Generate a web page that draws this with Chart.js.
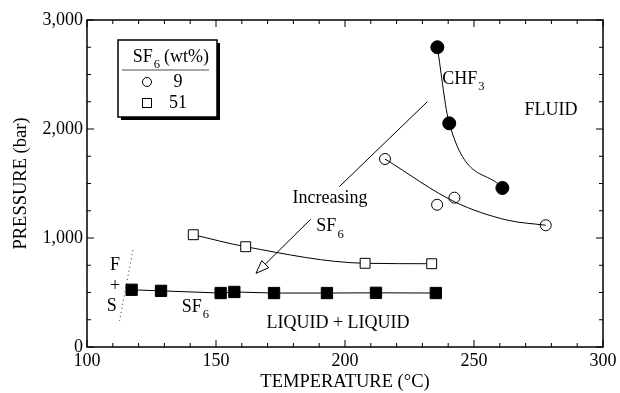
<!DOCTYPE html>
<html>
<head>
<meta charset="utf-8">
<script src="https://cdn.jsdelivr.net/npm/chart.js@4/dist/chart.umd.min.js"></script>
<style>
html,body{margin:0;padding:0;background:#fff;}
#wrap{width:620px;height:393px;position:relative;}
</style>
</head>
<body>
<div id="wrap"><canvas id="c" width="620" height="393"></canvas></div>
<script>
// ---- data (temperature °C, pressure bar) ----
const chf3T = [235.8, 240.4, 261.0];
const chf3P = [2750, 2052, 1459];

const sf9T = [215.5, 235.7, 242.4, 277.8];
const sf9P = [1725, 1305, 1370, 1117];

const sf51T = [141.2, 161.5, 207.8, 233.6];
const sf51P = [1030, 920, 768, 764];

const sf6T = [117.3, 128.7, 151.8, 157.1, 172.5, 193.0, 212.0, 235.2];
const sf6P = [525, 515, 495, 505, 495, 495, 497, 495];

// hand-read points along the drawn fit curves
const fit9T = [215.5, 242.4, 262.7, 277.8];
const fit9P = [1725, 1333, 1165, 1117];

const xTicks = [100, 150, 200, 250, 300];
const yTicks = [0, 1000, 2000, 3000];

const FONT = "'Liberation Serif', 'Times New Roman', serif";

function pts(xs, ys){ return xs.map((x,i)=>({x:x, y:ys[i]})); }

const decor = {
  id: 'decor',
  afterDraw(chart){
    const ctx = chart.ctx, a = chart.chartArea;
    const xs = chart.scales.x, ys = chart.scales.y;
    const X = v => xs.getPixelForValue(v), Y = v => ys.getPixelForValue(v);
    ctx.save();
    // frame
    ctx.strokeStyle = '#000'; ctx.lineWidth = 1.5;
    ctx.strokeRect(a.left, a.top, a.right - a.left, a.bottom - a.top);
    // ticks (inward, all four sides)
    ctx.lineWidth = 1;
    ctx.beginPath();
    for (let v = 100; v <= 300; v += 10) {
      const px = X(v), L = (v % 50 === 0) ? 7 : 4;
      ctx.moveTo(px, a.bottom); ctx.lineTo(px, a.bottom - L);
      ctx.moveTo(px, a.top); ctx.lineTo(px, a.top + L);
    }
    for (let v = 0; v <= 3000; v += 250) {
      const py = Y(v), L = (v % 1000 === 0) ? 7 : 4;
      ctx.moveTo(a.left, py); ctx.lineTo(a.left + L, py);
      ctx.moveTo(a.right, py); ctx.lineTo(a.right - L, py);
    }
    ctx.stroke();

    // text helpers
    ctx.fillStyle = '#000';
    ctx.textBaseline = 'middle';
    function sub(main, s, cx, cy, size){
      ctx.font = size + 'px ' + FONT;
      const w1 = ctx.measureText(main).width;
      ctx.font = (size*0.7) + 'px ' + FONT;
      const w2 = ctx.measureText(s).width;
      const x0 = cx - (w1 + w2)/2;
      ctx.textAlign = 'left';
      ctx.font = size + 'px ' + FONT;
      ctx.fillText(main, x0, cy);
      ctx.font = (size*0.7) + 'px ' + FONT;
      ctx.fillText(s, x0 + w1 + 1, cy + size*0.45);
    }
    function txt(t, cx, cy, size){
      ctx.font = size + 'px ' + FONT; ctx.textAlign = 'center';
      ctx.fillText(t, cx, cy);
    }
    sub('CHF', '3', X(245.7), Y(2459), 18);
    txt('FLUID', X(279.8), Y(2174), 18);
    txt('LIQUID + LIQUID', X(197.3), Y(220), 18);
    sub('SF', '6', X(141.8), Y(367), 18);
    txt('Increasing', X(194.2), Y(1364), 18);
    sub('SF', '6', X(194.0), Y(1104), 18);
    txt('F', X(110.9), Y(752), 18);
    txt('+', X(110.9), Y(560), 18);
    txt('S', X(109.6), Y(370), 18);

    // dotted boundary
    ctx.strokeStyle = '#444'; ctx.lineWidth = 1; ctx.setLineDash([1.2, 3]);
    ctx.beginPath(); ctx.moveTo(X(117.8), Y(890)); ctx.lineTo(X(112.6), Y(239)); ctx.stroke();
    ctx.setLineDash([]);
    // pointer line & arrow
    ctx.strokeStyle = '#000'; ctx.lineWidth = 1;
    ctx.beginPath(); ctx.moveTo(X(231.9), Y(2250)); ctx.lineTo(X(197.8), Y(1471)); ctx.stroke();
    const x1 = X(186.7), y1 = Y(1172), x2 = X(165.5), y2 = Y(676);
    const ang = Math.atan2(y2 - y1, x2 - x1);
    const hl = 13, hw = 5;
    const bx = x2 - hl*Math.cos(ang), by = y2 - hl*Math.sin(ang);
    ctx.beginPath(); ctx.moveTo(x1, y1); ctx.lineTo(bx, by); ctx.stroke();
    ctx.beginPath();
    ctx.moveTo(x2, y2);
    ctx.lineTo(bx + hw*Math.sin(ang), by - hw*Math.cos(ang));
    ctx.lineTo(bx - hw*Math.sin(ang), by + hw*Math.cos(ang));
    ctx.closePath(); ctx.fillStyle = '#fff'; ctx.fill(); ctx.stroke();

    // legend box with shadow
    const lx = a.left + 31, ly = a.top + 20, lw = 99, lh = 77;
    ctx.fillStyle = '#000';
    ctx.fillRect(lx + 3, ly + 3, lw, lh);
    ctx.fillStyle = '#fff';
    ctx.fillRect(lx, ly, lw, lh);
    ctx.strokeStyle = '#000'; ctx.lineWidth = 1.5;
    ctx.strokeRect(lx, ly, lw, lh);
    ctx.fillStyle = '#000';
    sub('SF', '6', lx + 28, ly + 17, 18);
    ctx.font = '18px ' + FONT; ctx.textAlign = 'left';
    ctx.fillText('(wt%)', lx + 46, ly + 17);
    ctx.strokeStyle = '#888'; ctx.lineWidth = 1.5;
    ctx.beginPath(); ctx.moveTo(lx + 4, ly + 30); ctx.lineTo(lx + lw - 8, ly + 30); ctx.stroke();
    ctx.strokeStyle = '#000'; ctx.lineWidth = 1;
    ctx.beginPath(); ctx.arc(lx + 29, ly + 42, 4.5, 0, Math.PI*2); ctx.stroke();
    ctx.strokeRect(lx + 24.5, ly + 58.5, 9, 9);
    txt('9', lx + 60, ly + 42, 18);
    txt('51', lx + 60, ly + 63, 18);
    ctx.restore();
  }
};

new Chart(document.getElementById('c'), {
  type: 'scatter',
  data: {
    datasets: [
      { data: pts(chf3T, chf3P), showLine: true, cubicInterpolationMode: 'monotone',
        borderColor: '#000', borderWidth: 1, backgroundColor: '#000',
        pointStyle: 'circle', pointRadius: 6.5, pointBorderColor: '#000', pointBackgroundColor: '#000' },
      { data: pts(fit9T, fit9P), showLine: true, cubicInterpolationMode: 'monotone',
        borderColor: '#000', borderWidth: 1, pointRadius: 0 },
      { data: pts(sf9T, sf9P), showLine: false,
        pointStyle: 'circle', pointRadius: 5.5, pointBorderWidth: 1,
        pointBorderColor: '#000', pointBackgroundColor: '#fff' },
      { data: pts(sf51T, sf51P), showLine: true, cubicInterpolationMode: 'monotone',
        borderColor: '#000', borderWidth: 1,
        pointStyle: 'rect', pointRadius: 7, pointBorderWidth: 1,
        pointBorderColor: '#000', pointBackgroundColor: '#fff' },
      { data: pts(sf6T, sf6P), showLine: true, tension: 0,
        borderColor: '#000', borderWidth: 1,
        pointStyle: 'rect', pointRadius: 8, pointBorderWidth: 1,
        pointBorderColor: '#000', pointBackgroundColor: '#000' }
    ]
  },
  options: {
    responsive: false, animation: false,
    layout: { padding: { top: 20, right: 17, left: 0, bottom: 0 } },
    plugins: { legend: { display: false }, tooltip: { enabled: false } },
    scales: {
      x: {
        type: 'linear', min: 100, max: 300,
        afterFit: s => { s.height = 46; },
        afterBuildTicks: s => { s.ticks = xTicks.map(v => ({ value: v })); },
        grid: { display: false, drawTicks: false }, border: { display: false },
        ticks: { color: '#000', font: { family: FONT, size: 18 }, padding: 3, maxRotation: 0 },
        title: { display: true, text: 'TEMPERATURE (°C)', color: '#000',
                 font: { family: FONT, size: 18.5 }, padding: { top: 0, bottom: 0 } }
      },
      y: {
        type: 'linear', min: 0, max: 3000,
        afterFit: s => { s.width = 87; },
        afterBuildTicks: s => { s.ticks = yTicks.map(v => ({ value: v })); },
        grid: { display: false, drawTicks: false }, border: { display: false },
        ticks: { color: '#000', font: { family: FONT, size: 18 }, padding: 4 },
        title: { display: true, text: 'PRESSURE (bar)', color: '#000',
                 font: { family: FONT, size: 18.5 }, padding: { top: 10, bottom: 4 } }
      }
    }
  },
  plugins: [decor]
});
</script>
</body>
</html>
